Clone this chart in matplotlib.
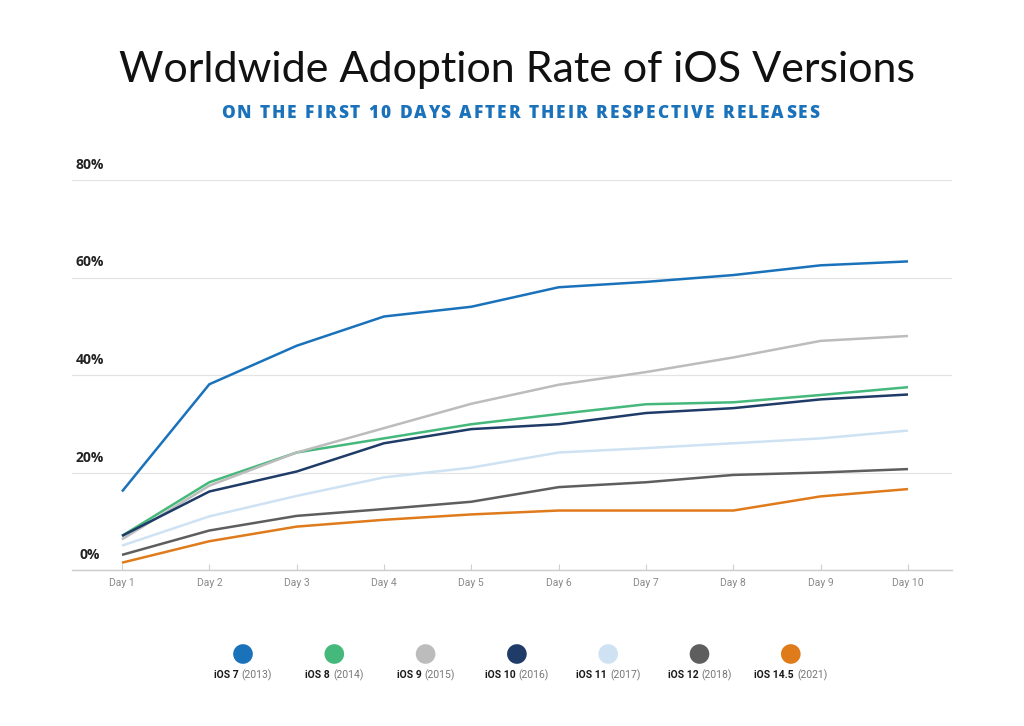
"""Worldwide adoption rate of iOS versions over the first 10 days after release."""

import matplotlib

matplotlib.use("Agg")
import matplotlib.pyplot as plt
from matplotlib import transforms

DAYS = list(range(1, 11))
DAY_LABELS = [f"Day {d}" for d in DAYS]

IOS_7 = [16.1, 38.1, 46.0, 52.0, 54.0, 58.0, 59.1, 60.5, 62.5, 63.3]
IOS_8 = [7.0, 18.0, 24.1, 27.0, 29.9, 32.0, 34.0, 34.4, 35.9, 37.5]
IOS_9 = [6.3, 17.3, 24.1, 29.1, 34.1, 38.0, 40.6, 43.6, 47.0, 48.0]
IOS_10 = [7.0, 16.1, 20.2, 26.0, 28.9, 29.9, 32.2, 33.2, 35.0, 36.0]
IOS_11 = [5.0, 11.0, 15.2, 19.0, 21.0, 24.1, 25.0, 26.0, 27.0, 28.6]
IOS_12 = [3.1, 8.1, 11.1, 12.5, 14.0, 17.0, 18.0, 19.5, 20.0, 20.7]
IOS_145 = [1.5, 5.9, 8.9, 10.3, 11.4, 12.2, 12.2, 12.2, 15.1, 16.6]

SERIES_NAMES = ["iOS 7", "iOS 8", "iOS 9", "iOS 10", "iOS 11", "iOS 12", "iOS 14.5"]
SERIES_YEARS = ["(2013)", "(2014)", "(2015)", "(2016)", "(2017)", "(2018)", "(2021)"]
SERIES_VALUES = [IOS_7, IOS_8, IOS_9, IOS_10, IOS_11, IOS_12, IOS_145]
SERIES_COLORS = ["#1a72bb", "#45b87c", "#bcbcbc", "#1f3b67", "#cfe2f4", "#5e5e5e", "#e07b1b"]

Y_TICKS = [0, 20, 40, 60, 80]
Y_LABELS = ["0%", "20%", "40%", "60%", "80%"]

TITLE = "Worldwide Adoption Rate of iOS Versions"
SUBTITLE = "ON THE FIRST 10 DAYS AFTER THEIR RESPECTIVE RELEASES"

W, H = 1024, 726

fig = plt.figure(figsize=(W / 100, H / 100), dpi=100)
fig.patch.set_facecolor("white")
renderer = fig.canvas.get_renderer()

# overlay in pixel coordinates for title / legend
over = fig.add_axes([0, 0, 1, 1], zorder=5)
over.set_xlim(0, W)
over.set_ylim(H, 0)
over.axis("off")
over.patch.set_alpha(0)


def text_width(s, **kw):
    t = over.text(0, 0, s, **kw)
    w = t.get_window_extent(renderer).width
    t.remove()
    return w


def spaced_text(xc, y, s, tracking, **kw):
    """Draw s centred at xc with extra letter spacing (pixels)."""
    bar = text_width("|", **kw)
    offsets = [text_width(s[:i] + "|", **kw) - bar if i else 0.0 for i in range(len(s))]
    total = text_width(s, **kw) + tracking * (len(s) - 1)
    x0 = xc - total / 2
    for i, ch in enumerate(s):
        if ch != " ":
            over.text(x0 + offsets[i] + i * tracking, y, ch, ha="left", va="center", **kw)


over.text(517, 70, TITLE, ha="center", va="center", fontsize=31,
          family="Lato", color="#111111")
spaced_text(520, 113, SUBTITLE, 2.0, fontsize=12.4, family="Open Sans",
            weight=800, color="#1a72bb")

# main chart
ax = fig.add_axes([72 / W, 156 / H, 880 / W, 390 / H])
for vals, color in zip(SERIES_VALUES, SERIES_COLORS):
    ax.plot(DAYS, vals, color=color, lw=1.8, solid_capstyle="butt")

ax.set_xlim(0.4275, 10.504)
ax.set_ylim(0, 80)
ax.set_xticks(DAYS)
ax.set_xticklabels(DAY_LABELS, family="Roboto", fontsize=7.5, color="#8a8a8a")
ax.tick_params(axis="x", direction="in", length=4.5, color="#cfcfcf", pad=6)
ax.set_yticks(Y_TICKS)
ax.tick_params(axis="y", length=0, labelleft=False)
ax.grid(axis="y", color="#e4e4e4", lw=0.9)
ax.set_axisbelow(True)
for side in ("top", "right", "left"):
    ax.spines[side].set_visible(False)
ax.spines["bottom"].set_color("#cccccc")
ax.spines["bottom"].set_linewidth(1.0)

label_tf = transforms.offset_copy(
    transforms.blended_transform_factory(ax.transAxes, ax.transData),
    fig=fig, x=0, y=8, units="dots")
for v, lab in zip(Y_TICKS, Y_LABELS):
    ax.text(18 / 880, v, lab, transform=label_tf, ha="center", va="bottom",
            family="Open Sans", weight="bold", fontsize=10, color="#222222",
            clip_on=False)

# legend
leg_x0, leg_dx = 243, 91.3
for i, (name, year, color) in enumerate(zip(SERIES_NAMES, SERIES_YEARS, SERIES_COLORS)):
    xc = leg_x0 + i * leg_dx
    over.scatter([xc], [654], s=200, color=color, edgecolors="none")
    bold_kw = dict(family="Roboto", weight="bold", fontsize=7.5, color="#1a1a1a")
    year_kw = dict(family="Roboto", fontsize=7.5, color="#777777")
    w1 = text_width(name, **bold_kw)
    w2 = text_width(year, **year_kw)
    gap = 3
    x_start = xc - (w1 + gap + w2) / 2
    over.text(x_start, 675, name, ha="left", va="center", **bold_kw)
    over.text(x_start + w1 + gap, 675, year, ha="left", va="center", **year_kw)

fig.savefig("out.png", dpi=100, facecolor="white")
